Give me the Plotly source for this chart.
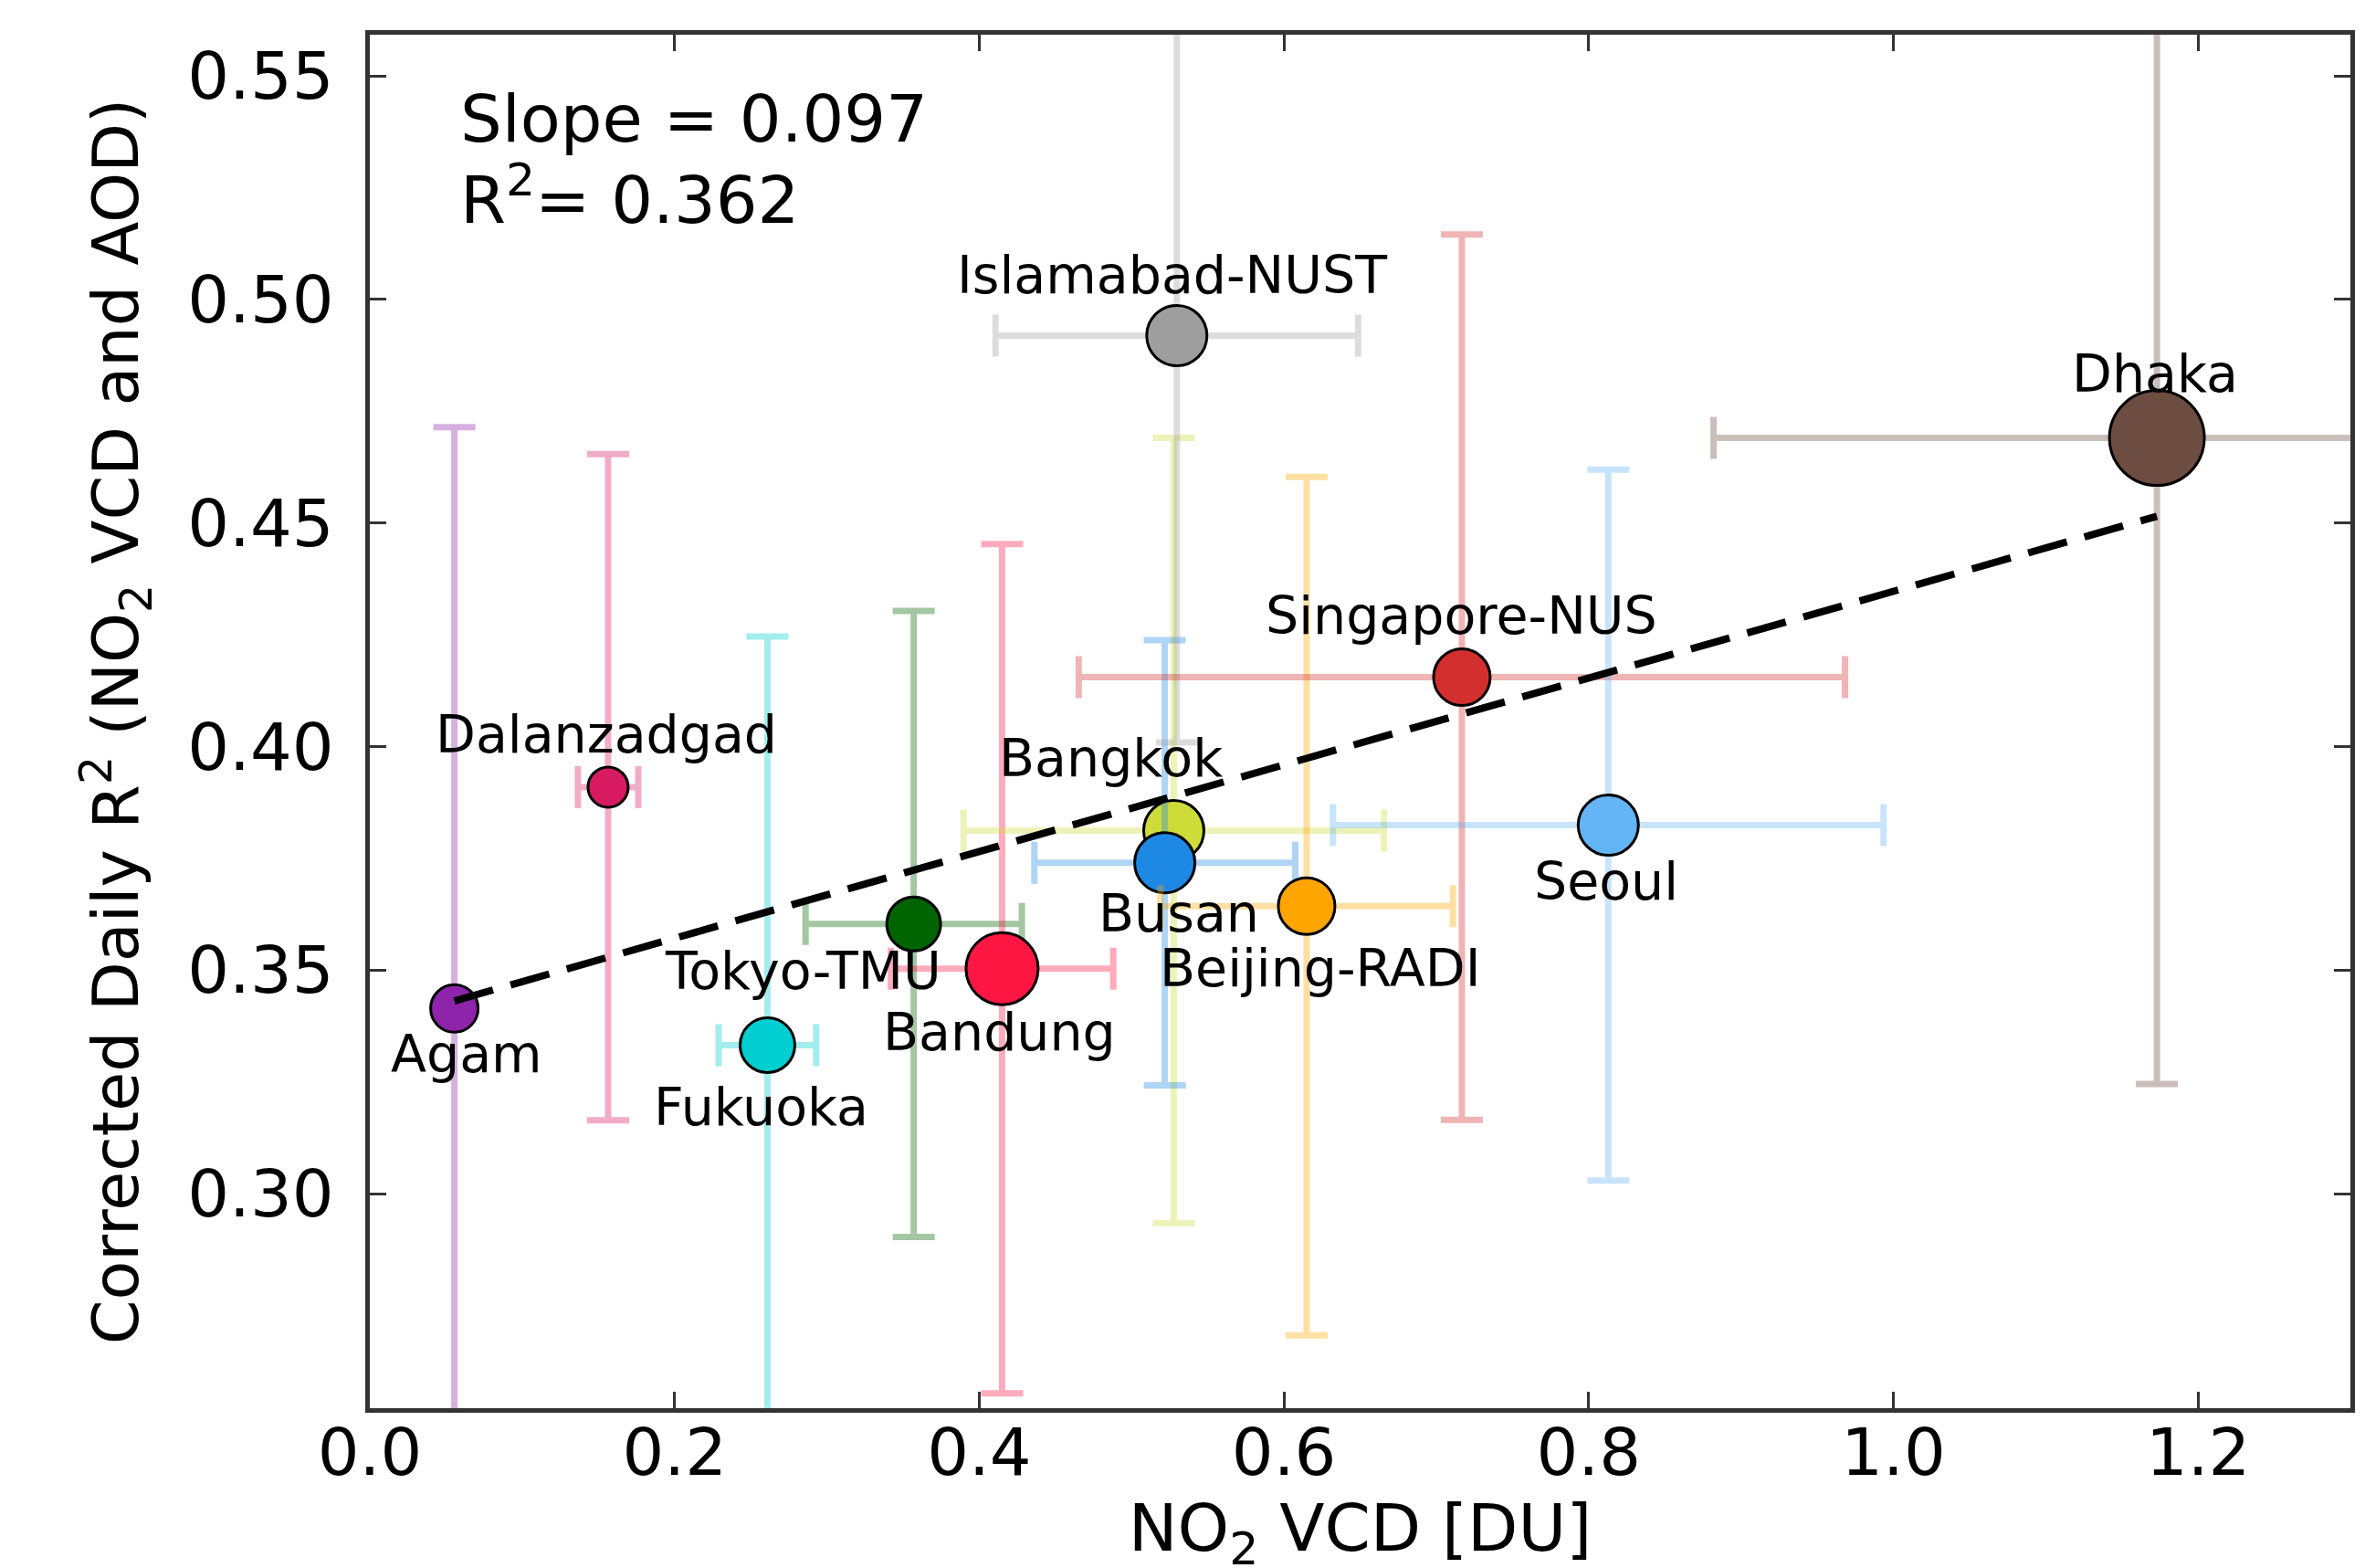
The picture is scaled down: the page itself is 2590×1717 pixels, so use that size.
import plotly.graph_objects as go

sites = ["Agam", "Dalanzadgad", "Fukuoka", "Tokyo-TMU", "Bandung", "Bangkok", "Busan",
         "Islamabad-NUST", "Beijing-RADI", "Singapore-NUS", "Seoul", "Dhaka"]
no2 = [0.0555, 0.1564, 0.261, 0.357, 0.415, 0.5277, 0.5218, 0.5297, 0.6149, 0.7168, 0.8129, 1.173]
r2 = [0.3414, 0.3909, 0.3332, 0.3603, 0.3503, 0.3812, 0.3740, 0.4919, 0.3643, 0.4155, 0.3824, 0.4690]
no2_err = [0.003, 0.0198, 0.032, 0.071, 0.073, 0.138, 0.0856, 0.119, 0.096, 0.2515, 0.1807, 0.291]
r2_err = [0.130, 0.0745, 0.0914, 0.070, 0.095, 0.0878, 0.0498, 0.091, 0.096, 0.099, 0.0795, 0.1445]

slope_text = "Slope = 0.097"
r2_text = "R<sup>2</sup>= 0.362"
slope = 0.097
intercept = 0.3377

# styles
colors = ["#8E24AA", "#D81B60", "#00CED1", "#006400", "#FF1744", "#CDDC39", "#1E88E5",
          "#9E9E9E", "#FFA500", "#D32F2F", "#64B5F6", "#6D4C41"]
sizes = [52, 44, 60, 59, 79, 66, 66, 66, 62, 62, 66, 104]
label_dx = [13, -2, -7, -121, -3, -69, 15, -5, 15, 0, -2, -2]
label_dy = [50, -58, 68, 51, 69, -79, 55, -66, 68, -68, 61, -71]


def rgba(hexc, a):
    h = hexc.lstrip("#")
    return "rgba(%d,%d,%d,%.2f)" % (int(h[0:2], 16), int(h[2:4], 16), int(h[4:6], 16), a)


fig = go.Figure()
for i, s in enumerate(sites):
    ec = rgba(colors[i], 0.36)
    fig.add_trace(go.Scatter(
        x=[no2[i]], y=[r2[i]], mode="markers", name=s, showlegend=False,
        marker=dict(color=colors[i], size=sizes[i], line=dict(color="black", width=3)),
        error_x=dict(type="data", array=[no2_err[i]], color=ec, thickness=7, width=23),
        error_y=dict(type="data", array=[r2_err[i]], color=ec, thickness=7, width=23),
    ))

x0, x1 = min(no2), max(no2)
fig.add_trace(go.Scatter(
    x=[x0, x1], y=[intercept + slope * x0, intercept + slope * x1], mode="lines",
    line=dict(color="black", width=8, dash="44px,20px"), showlegend=False))

for i, s in enumerate(sites):
    fig.add_annotation(x=no2[i], y=r2[i], text=s, showarrow=False,
                       xshift=label_dx[i], yshift=-label_dy[i],
                       font=dict(size=57, color="black", family="DejaVu Sans"))

fig.add_annotation(x=0.058, y=0.5405, text=slope_text, showarrow=False, xanchor="left",
                   font=dict(size=72, color="black", family="DejaVu Sans"))
fig.add_annotation(x=0.058, y=0.5232, text=r2_text, showarrow=False, xanchor="left",
                   font=dict(size=72, color="black", family="DejaVu Sans"))

axis_common = dict(showline=True, linewidth=5, linecolor="#333333", mirror="allticks",
                   ticks="inside", ticklen=18, tickwidth=2.5, tickcolor="#333333",
                   showgrid=False, zeroline=False,
                   tickfont=dict(size=72, color="black", family="DejaVu Sans"))

fig.update_xaxes(range=[0, 1.3], tickvals=[0, 0.2, 0.4, 0.6, 0.8, 1.0, 1.2],
                 ticktext=["0.0", "0.2", "0.4", "0.6", "0.8", "1.0", "1.2"],
                 ticklabelstandoff=-18,
                 title=dict(text="NO<sub>2</sub> VCD [DU]", standoff=30,
                            font=dict(size=72, color="black", family="DejaVu Sans")),
                 **axis_common)
fig.update_yaxes(range=[0.252, 0.5592], tickvals=[0.30, 0.35, 0.40, 0.45, 0.50, 0.55],
                 ticktext=["0.30", "0.35", "0.40", "0.45", "0.50", "0.55"],
                 ticklabelstandoff=20,
                 title=dict(text="Corrected Daily R<sup>2</sup> (NO<sub>2</sub> VCD and AOD)", standoff=32,
                            font=dict(size=70, color="black", family="DejaVu Sans")),
                 **axis_common)

fig.update_layout(width=2590, height=1717, plot_bgcolor="white", paper_bgcolor="white",
                  margin=dict(l=397, r=24, t=30, b=180), font=dict(family="DejaVu Sans"))

fig.write_html("out.html")
